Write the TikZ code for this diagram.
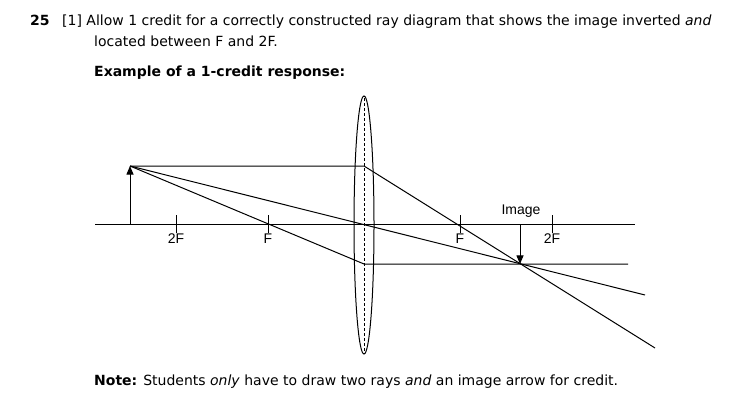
\documentclass[tikz,border=0pt]{standalone}
\usepackage{fontspec}
\setmainfont{DejaVu Sans}
\newfontfamily\labelfont{Liberation Sans}
\usepackage{tikz}
\usetikzlibrary{arrows}

\begin{document}
\begin{tikzpicture}[x=1pt,y=-1pt,>=triangle 45,
    ray/.style={black,line width=1pt},
    axislabel/.style={font=\labelfont\fontsize{14}{14}\selectfont,inner sep=1pt}]
\useasboundingbox (0,0) rectangle (730,412);
\begin{scope}[font=\fontsize{14}{17}\selectfont]
    \node[anchor=base west,inner sep=0] (num) at (30,26) {\textbf{25}};
    \node[anchor=base west,inner sep=0] (line1) at (62,26) {[1] Allow 1 credit for a correctly constructed ray diagram that shows the image inverted \textit{and}};
    \node[anchor=base west,inner sep=0] (line2) at (94,46) {located between F and 2F.};
    \node[anchor=base west,inner sep=0] (head) at (94,76) {\textbf{Example of a 1-credit response:}};
    \node[anchor=base west,inner sep=0] (note) at (94,385) {\textbf{Note:} Students \textit{only} have to draw two rays \textit{and} an image arrow for credit.};
\end{scope}

% axis, lens and marks
\coordinate (axl) at (95,224);
\coordinate (axr) at (635,224);
\coordinate (lens) at (364,225);
\draw[ray] (axl) -- (axr);
\draw[ray] (lens) ellipse (10 and 129);
\draw[ray,dashed,dash pattern=on 3pt off 2pt] (364,98) -- (364,352);
\foreach \x/\t in {176/2F,268/F,460/F,552/2F} {
    \draw[ray] (\x,215) -- (\x,233);
    \node[axislabel,anchor=north] at (\x,233) {\t};
}

% object and image
\coordinate (obase) at (130,224);
\coordinate (otop) at (130,166);
\coordinate (itop) at (520,224);
\coordinate (itip) at (520,264);
\draw[ray,->] (obase) -- (otop);
\draw[ray,->] (itop) -- (itip);
\node[axislabel,anchor=south] (imglabel) at (521,219) {Image};

% rays
\coordinate (lup) at (364,166);
\coordinate (llow) at (364,264);
\coordinate (endA) at (655,348);
\coordinate (endB) at (645,295);
\coordinate (endC) at (628,264);
\draw[ray] (otop) -- (lup) -- (endA);
\draw[ray] (otop) -- (endB);
\draw[ray] (otop) -- (llow) -- (endC);
\end{tikzpicture}
\end{document}
